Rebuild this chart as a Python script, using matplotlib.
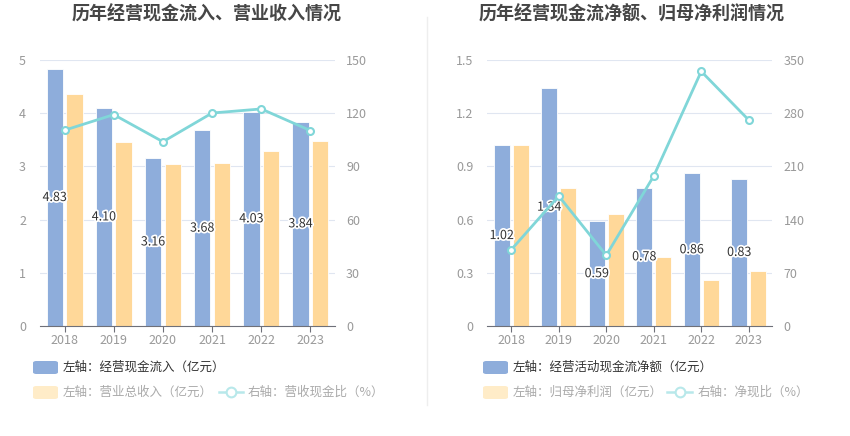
import matplotlib
matplotlib.use('Agg')
import numpy as np
import matplotlib.pyplot as plt
from matplotlib.patches import FancyBboxPatch
from matplotlib.lines import Line2D
import matplotlib.patheffects as pe

plt.rcParams['font.family'] = ['Noto Sans CJK SC', 'DejaVu Sans']

years = ['2018', '2019', '2020', '2021', '2022', '2023']

# left chart
cash_in = [4.83, 4.10, 3.16, 3.68, 4.03, 3.84]
revenue = [4.37, 3.45, 3.04, 3.06, 3.29, 3.48]
cash_ratio = [110.4, 119.2, 103.9, 120.1, 122.4, 110.2]

# right chart
net_cash = [1.02, 1.34, 0.59, 0.78, 0.86, 0.83]
net_profit = [1.02, 0.78, 0.63, 0.39, 0.26, 0.31]
net_ratio = [100.4, 171.0, 93.0, 197.4, 335.0, 271.0]

BLUE = '#8eaddb'
ORANGE = '#ffd899'
LINE = '#80d6d8'
GRID = '#e0e6f1'
TICK = '#999999'

W, H = 850, 436


def px(x, y):
    return x / W, 1 - y / H


def draw_panel(fig, rect, title, title_x, bars1, bars2, line, ylim1, yticks1, ylim2, yticks2, fmt1):
    ax = fig.add_axes(rect)
    x = np.arange(len(years))
    bw = 0.33
    off = 0.2
    ax.bar(x - off, bars1, bw, color=BLUE, edgecolor='white', linewidth=0.6, zorder=2)
    ax.bar(x + off, bars2, bw, color=ORANGE, edgecolor='white', linewidth=0.6, zorder=2)
    ax.set_xlim(-0.5, len(years) - 0.5)
    ax.set_ylim(*ylim1)
    ax.set_yticks(yticks1)
    ax.set_yticklabels([fmt1(v) for v in yticks1])
    ax.set_xticks(x)
    ax.set_xticklabels(years)
    ax.grid(axis='y', color=GRID, linewidth=0.8, zorder=0)
    ax.set_axisbelow(True)
    for s in ['top', 'right', 'left']:
        ax.spines[s].set_visible(False)
    ax.spines['bottom'].set_color('#6e7079')
    ax.tick_params(axis='y', length=0, colors=TICK, labelsize=9, pad=10)
    ax.tick_params(axis='x', length=4, color='#6e7079', colors=TICK, labelsize=9, pad=2)

    for xi, v in zip(x, bars1):
        ax.text(xi - off, v / 2, f'{v:.2f}', ha='center', va='center', fontsize=9,
                color='#333333', zorder=5,
                path_effects=[pe.withStroke(linewidth=2.5, foreground='white')])

    ax2 = ax.twinx()
    ax2.plot(x, line, color=LINE, linewidth=2, marker='o', markersize=5,
             markerfacecolor='white', markeredgecolor=LINE, markeredgewidth=1.5, zorder=4)
    ax2.set_ylim(*ylim2)
    ax2.set_yticks(yticks2)
    for s in ['top', 'right', 'left', 'bottom']:
        ax2.spines[s].set_visible(False)
    ax2.tick_params(axis='y', length=0, colors=TICK, labelsize=9, pad=8)

    fx, fy = px(title_x, 14)
    fig.text(fx, fy, title, ha='center', va='center', fontsize=13,
             fontweight='bold', color='#464646')


def legend_box(fig, x0, y0, color):
    bx, by = px(x0, y0 + 13)
    fig.patches.append(FancyBboxPatch((bx, by), 25 / W, 13 / H,
                                      boxstyle='round,pad=0,rounding_size=0.004',
                                      facecolor=color, edgecolor='none',
                                      transform=fig.transFigure, figure=fig))


def legend_line(fig, x0, x1, yc):
    a, b = px(x0, yc)
    c, _ = px(x1, yc)
    fig.lines.append(Line2D([a, c], [b, b], color='#b8e8ea', linewidth=1.8,
                            transform=fig.transFigure, figure=fig))
    m, _ = px((x0 + x1) / 2, yc)
    fig.lines.append(Line2D([m], [b], marker='o', markersize=7, markerfacecolor='white',
                            markeredgecolor='#b8e8ea', markeredgewidth=1.5, linestyle='none',
                            transform=fig.transFigure, figure=fig))


def legend_text(fig, x0, yc, s, color):
    a, b = px(x0, yc)
    fig.text(a, b, s, ha='left', va='center', fontsize=9, color=color)


fig = plt.figure(figsize=(8.5, 4.36), dpi=100)

top, bottom = 60, 326
draw_panel(fig, [40 / W, 1 - bottom / H, 295 / W, (bottom - top) / H],
           '历年经营现金流入、营业收入情况', 207,
           cash_in, revenue, cash_ratio,
           (0, 5), [0, 1, 2, 3, 4, 5], (0, 150), [0, 30, 60, 90, 120, 150],
           lambda v: f'{v:g}')
draw_panel(fig, [487.5 / W, 1 - bottom / H, 285 / W, (bottom - top) / H],
           '历年经营现金流净额、归母净利润情况', 632,
           net_cash, net_profit, net_ratio,
           (0, 1.5), [0, 0.3, 0.6, 0.9, 1.2, 1.5], (0, 350), [0, 70, 140, 210, 280, 350],
           lambda v: '0' if v == 0 else f'{v:.1f}')

# divider
fig.lines.append(Line2D([427 / W, 427 / W], [0.07, 0.96], color='#eeeeee', linewidth=1,
                        transform=fig.transFigure, figure=fig))

# legends
legend_box(fig, 33, 361, BLUE)
legend_text(fig, 63, 367, '左轴：经营现金流入（亿元）', '#333333')
legend_box(fig, 33, 386, '#ffecc8')
legend_text(fig, 63, 392, '左轴：营业总收入（亿元）', '#aaaaaa')
legend_line(fig, 219, 243, 392)
legend_text(fig, 248, 392, '右轴：营收现金比（%）', '#aaaaaa')

legend_box(fig, 483, 361, BLUE)
legend_text(fig, 513, 367, '左轴：经营活动现金流净额（亿元）', '#333333')
legend_box(fig, 483, 386, '#ffecc8')
legend_text(fig, 513, 392, '左轴：归母净利润（亿元）', '#aaaaaa')
legend_line(fig, 667, 692, 392)
legend_text(fig, 698, 392, '右轴：净现比（%）', '#aaaaaa')

fig.savefig('out.png', dpi=100)
